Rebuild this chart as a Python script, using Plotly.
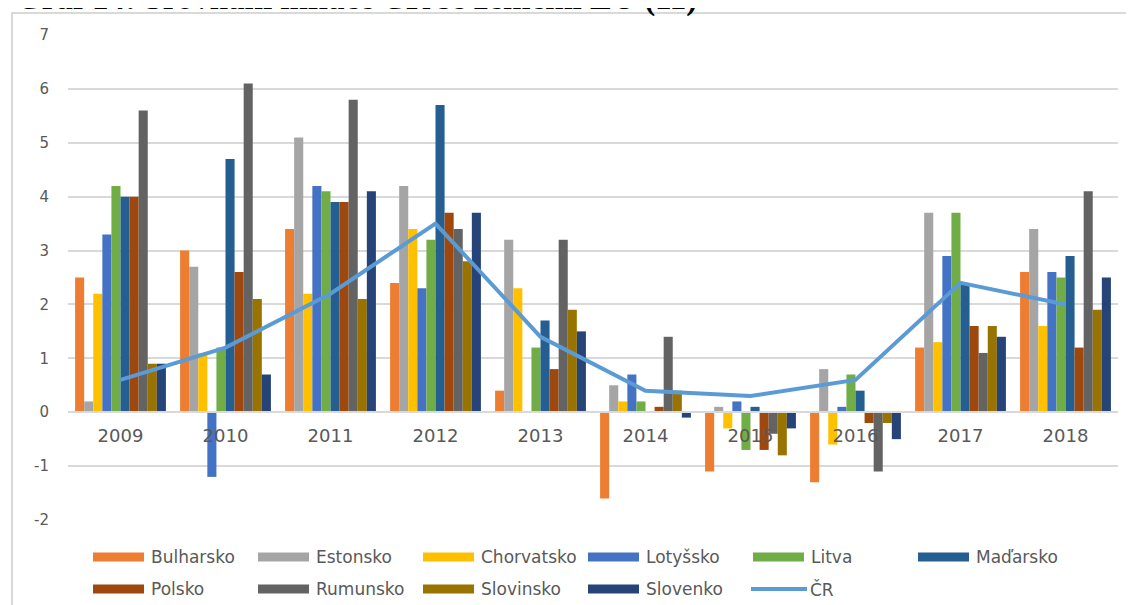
import plotly.graph_objects as go

years = ["2009", "2010", "2011", "2012", "2013", "2014", "2015", "2016", "2017", "2018"]

bulharsko = [2.5, 3.0, 3.4, 2.4, 0.4, -1.6, -1.1, -1.3, 1.2, 2.6]
estonsko = [0.2, 2.7, 5.1, 4.2, 3.2, 0.5, 0.1, 0.8, 3.7, 3.4]
chorvatsko = [2.2, 1.1, 2.2, 3.4, 2.3, 0.2, -0.3, -0.6, 1.3, 1.6]
lotyssko = [3.3, -1.2, 4.2, 2.3, 0.0, 0.7, 0.2, 0.1, 2.9, 2.6]
litva = [4.2, 1.2, 4.1, 3.2, 1.2, 0.2, -0.7, 0.7, 3.7, 2.5]
madarsko = [4.0, 4.7, 3.9, 5.7, 1.7, 0.0, 0.1, 0.4, 2.4, 2.9]
polsko = [4.0, 2.6, 3.9, 3.7, 0.8, 0.1, -0.7, -0.2, 1.6, 1.2]
rumunsko = [5.6, 6.1, 5.8, 3.4, 3.2, 1.4, -0.4, -1.1, 1.1, 4.1]
slovinsko = [0.9, 2.1, 2.1, 2.8, 1.9, 0.4, -0.8, -0.2, 1.6, 1.9]
slovensko = [0.9, 0.7, 4.1, 3.7, 1.5, -0.1, -0.3, -0.5, 1.4, 2.5]
cr = [0.6, 1.2, 2.2, 3.5, 1.4, 0.4, 0.3, 0.6, 2.4, 2.0]

series_names = ["Bulharsko", "Estonsko", "Chorvatsko", "Lotyšsko", "Litva", "Maďarsko",
                "Polsko", "Rumunsko", "Slovinsko", "Slovenko"]
series_values = [bulharsko, estonsko, chorvatsko, lotyssko, litva, madarsko,
                 polsko, rumunsko, slovinsko, slovensko]
line_name = "ČR"

y_tick_values = [-2, -1, 0, 1, 2, 3, 4, 5, 6, 7]
y_tick_labels = ["-2", "-1", "0", "1", "2", "3", "4", "5", "6", "7"]

colors = ["#ED7D31", "#A5A5A5", "#FFC000", "#4472C4", "#70AD47", "#255E91",
          "#9E480E", "#636363", "#997300", "#264478"]
line_color = "#5B9BD5"

OFF = 8  # page body margin
W, H = 1134 - OFF, 605 - OFF
L, R, T, B = 68 - OFF, 1118 - OFF, 35 - OFF, 520 - OFF
YMIN, YMAX = -2, 7

def px(x):
    # x given in screenshot pixels
    return (x - OFF - L) / (R - L)

def py(y):
    return (B - (y - OFF)) / (B - T)

fig = go.Figure()
for name, vals, col in zip(series_names, series_values, colors):
    fig.add_trace(go.Bar(x=years, y=vals, name=name, marker=dict(color=col, line=dict(width=0)),
                         showlegend=False))
fig.add_trace(go.Scatter(x=years, y=cr, name=line_name, mode="lines",
                         line=dict(color=line_color, width=4), showlegend=False))

shapes = []
annotations = []

# outer chart border
shapes.append(dict(type="rect", xref="paper", yref="paper",
                   x0=px(12), x1=px(1132), y0=py(620), y1=py(13),
                   line=dict(color="#D9D9D9", width=2), fillcolor="rgba(0,0,0,0)", layer="below"))

# custom legend
col_x = [93, 258, 423, 588, 753, 918]
row_y = [557, 589]
legend_items = list(zip(series_names, colors)) + [(line_name, None)]
for i, (name, col) in enumerate(legend_items):
    r, c = divmod(i, 6)
    x0 = col_x[c]
    y = row_y[r]
    if col is not None:
        shapes.append(dict(type="rect", xref="paper", yref="paper",
                           x0=px(x0), x1=px(x0 + 51), y0=py(y + 4.5), y1=py(y - 4.5),
                           line=dict(width=0), fillcolor=col))
        tx = x0 + 56
    else:
        shapes.append(dict(type="line", xref="paper", yref="paper",
                           x0=px(x0 - 2), x1=px(x0 + 54), y0=py(y), y1=py(y),
                           line=dict(color=line_color, width=4)))
        tx = x0 + 55
    annotations.append(dict(xref="paper", yref="paper", x=px(tx), y=py(y),
                            xanchor="left", yanchor="middle", showarrow=False,
                            text=name, font=dict(family="DejaVu Sans", size=17, color="#595959")))

# clipped title at top (only its lower edge shows, as in the source)
annotations.append(dict(xref="paper", yref="paper", x=px(14), y=py(19),
                        xanchor="left", yanchor="bottom", showarrow=False,
                        text="<b>Graf 14: Srovnání inflace ČR se zeměmi EU (11)</b>",
                        font=dict(family="Liberation Serif", size=33, color="#000000")))

fig.update_layout(
    width=W, height=H, autosize=False,
    margin=dict(l=L, r=W - R, t=T, b=H - B),
    paper_bgcolor="white", plot_bgcolor="white",
    barmode="group", bargap=0.135, bargroupgap=0,
    shapes=shapes, annotations=annotations,
    xaxis=dict(type="category", anchor="free", position=(0 - YMIN) / (YMAX - YMIN),
               showline=True, linecolor="#D9D9D9", linewidth=1.5, ticks="",
               showgrid=False, zeroline=False, ticklabelstandoff=7,
               tickfont=dict(family="DejaVu Sans", size=18, color="#595959")),
    yaxis=dict(range=[YMIN, YMAX], tickvals=y_tick_values, ticktext=y_tick_labels,
               showgrid=True, gridcolor="#D9D9D9", gridwidth=1.5,
               zeroline=False, showline=False, ticks="", ticklabelstandoff=18,
               tickfont=dict(family="DejaVu Sans", size=15, color="#595959")),
)

fig.write_html("out.html")
